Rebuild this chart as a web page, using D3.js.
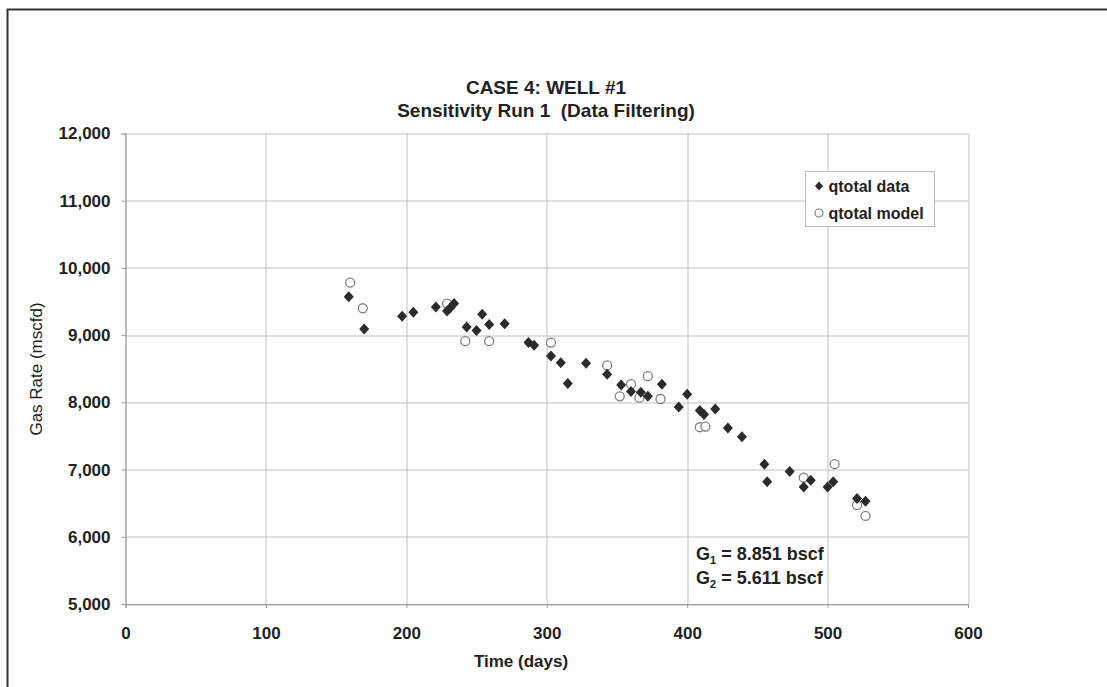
<!DOCTYPE html>
<html>
<head>
<meta charset="utf-8">
<script src="https://cdn.jsdelivr.net/npm/d3@7"></script>
<style>
  body { margin: 0; background: #fff; }
  text { font-family: "Liberation Sans", Arial, sans-serif; fill: #222; }
</style>
</head>
<body>
<div id="chart"></div>
<script>
// qtotal data (days, mscfd)
var dataDays = [159, 170, 197, 205, 221, 229, 231, 234, 243, 250, 254, 259, 270, 287, 291,
    303, 310, 315, 328, 343, 353, 360, 367, 372, 382, 394, 400, 409, 412, 420, 429, 439,
    455, 457, 473, 483, 488, 500, 504, 521, 527];
var dataRate = [9570, 9090, 9280, 9340, 9420, 9360, 9400, 9470, 9120, 9070, 9310, 9160, 9170, 8890, 8850,
    8690, 8590, 8280, 8580, 8420, 8260, 8160, 8150, 8090, 8270, 7930, 8120, 7880, 7820, 7900, 7620, 7490,
    7080, 6820, 6970, 6740, 6840, 6740, 6820, 6570, 6530];
// qtotal model
var modelDays = [160, 169, 229, 242, 259, 303, 343, 352, 360, 366, 372, 381, 409, 413, 483, 505, 521, 527];
var modelRate = [9780, 9400, 9470, 8910, 8910, 8890, 8550, 8090, 8270, 8070, 8390, 8050, 7630, 7640, 6880, 7080, 6470, 6310];

var xTicks = [0, 100, 200, 300, 400, 500, 600];
var yTicks = [5000, 6000, 7000, 8000, 9000, 10000, 11000, 12000];
var titleLines = ["CASE 4: WELL #1", "Sensitivity Run 1\u00a0\u00a0(Data Filtering)"];
var seriesNames = ["qtotal data", "qtotal model"];

var W = 1107, H = 687;
var margin = { top: 133.5, right: 139, bottom: 83, left: 125.5 };
var width = W - margin.left - margin.right,
    height = H - margin.top - margin.bottom;

var svg = d3.select("#chart").append("svg")
    .attr("width", W)
    .attr("height", H);

// outer frame (only left and top edges are visible)
svg.append("path")
    .attr("d", "M7.5," + H + " V9.5 H" + W)
    .attr("fill", "none")
    .attr("stroke", "#333")
    .attr("stroke-width", 2);

var g = svg.append("g")
    .attr("transform", "translate(" + margin.left + "," + margin.top + ")");

var x = d3.scaleLinear().domain([0, 600]).range([0, width]);
var y = d3.scaleLinear().domain([5000, 12000]).range([height, 0]);

// gridlines
g.append("g").selectAll("line")
    .data(yTicks)
    .enter().append("line")
    .attr("x1", 0).attr("x2", width)
    .attr("y1", function(d) { return Math.round(y(d)) + 0.5; })
    .attr("y2", function(d) { return Math.round(y(d)) + 0.5; })
    .attr("stroke", "#c0c0c0");
g.append("g").selectAll("line")
    .data(xTicks)
    .enter().append("line")
    .attr("y1", 0).attr("y2", height)
    .attr("x1", function(d) { return Math.round(x(d)) + 0.5; })
    .attr("x2", function(d) { return Math.round(x(d)) + 0.5; })
    .attr("stroke", "#c0c0c0");

// axes
var yAxis = g.append("g")
    .call(d3.axisLeft(y).tickValues(yTicks).tickSize(4).tickPadding(11).tickFormat(d3.format(",")));
var xAxis = g.append("g")
    .attr("transform", "translate(0," + height + ")")
    .call(d3.axisBottom(x).tickValues(xTicks).tickSize(4).tickPadding(19));
[xAxis, yAxis].forEach(function(a) {
    a.select(".domain").attr("stroke", "#999");
    a.selectAll(".tick line").attr("stroke", "#999");
    a.selectAll("text")
        .style("font-family", "'Liberation Sans', Arial, sans-serif")
        .style("font-size", "17px")
        .style("font-weight", "bold")
        .attr("fill", "#222");
});

// titles
svg.selectAll(".title")
    .data(titleLines)
    .enter().append("text")
    .attr("class", "title")
    .attr("x", 546)
    .attr("y", function(d, i) { return 94 + i * 23; })
    .attr("text-anchor", "middle")
    .style("font-size", "19px")
    .style("font-weight", "bold")
    .text(function(d) { return d; });

svg.append("text")
    .attr("x", 521)
    .attr("y", 667)
    .attr("text-anchor", "middle")
    .style("font-size", "17px")
    .style("font-weight", "bold")
    .text("Time (days)");

svg.append("text")
    .attr("transform", "translate(42,369) rotate(-90)")
    .attr("text-anchor", "middle")
    .style("font-size", "17px")
    .text("Gas Rate (mscfd)");

// markers
var diamond = "M0,-5.5L5,0L0,5.5L-5,0Z";
var dataPts = d3.zip(dataDays, dataRate);
var modelPts = d3.zip(modelDays, modelRate);

g.append("g").selectAll("circle")
    .data(modelPts)
    .enter().append("circle")
    .attr("cx", function(d) { return x(d[0]); })
    .attr("cy", function(d) { return y(d[1]); })
    .attr("r", 4.5)
    .attr("fill", "#fff")
    .attr("stroke", "#808080")
    .attr("stroke-width", 1.3);

g.append("g").selectAll("path")
    .data(dataPts)
    .enter().append("path")
    .attr("d", diamond)
    .attr("transform", function(d) { return "translate(" + x(d[0]) + "," + y(d[1]) + ")"; })
    .attr("fill", "#2b2b2b");

// legend
var legend = svg.append("g").attr("transform", "translate(805.5,171.5)");
legend.append("rect")
    .attr("width", 129).attr("height", 55)
    .attr("fill", "#fff")
    .attr("stroke", "#bbb");
legend.append("path")
    .attr("d", "M0,-4.5L4,0L0,4.5L-4,0Z")
    .attr("transform", "translate(13.5,14.5)")
    .attr("fill", "#2b2b2b");
legend.append("circle")
    .attr("cx", 13.5).attr("cy", 41.5).attr("r", 4)
    .attr("fill", "#fff").attr("stroke", "#808080").attr("stroke-width", 1.2);
legend.selectAll("text")
    .data(seriesNames)
    .enter().append("text")
    .attr("x", 23)
    .attr("y", function(d, i) { return 20 + i * 27; })
    .style("font-size", "16px")
    .style("font-weight", "bold")
    .text(function(d) { return d; });

// annotation
var notes = [["1", " = 8.851 bscf", 560], ["2", " = 5.611 bscf", 584]];
notes.forEach(function(n) {
    var t = svg.append("text")
        .attr("x", 696).attr("y", n[2])
        .style("font-size", "18px").style("font-weight", "bold")
        .text("G");
    t.append("tspan").attr("dy", 4).style("font-size", "11px").text(n[0]);
    t.append("tspan").attr("dy", -4).text(n[1]);
});
</script>
</body>
</html>
